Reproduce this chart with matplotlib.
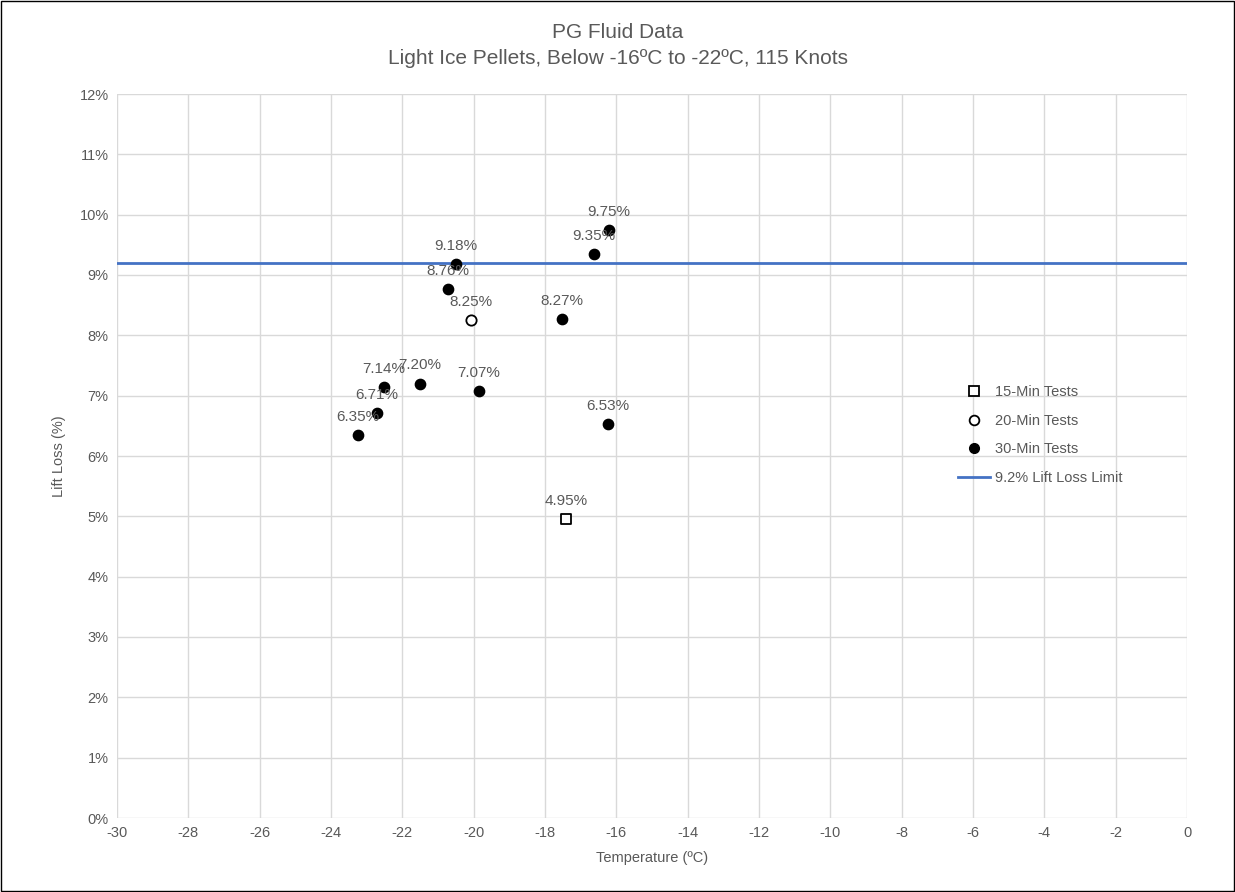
import matplotlib
matplotlib.use("Agg")
from matplotlib import pyplot as plt
from matplotlib.ticker import FuncFormatter, MultipleLocator
from matplotlib.lines import Line2D
from matplotlib.patches import Rectangle

plt.rcParams['font.family'] = ['Liberation Sans', 'DejaVu Sans']
plt.rcParams['axes.unicode_minus'] = False

# 15-min tests
temp15 = [-17.41]
loss15 = [4.95]
# 20-min tests
temp20 = [-20.08]
loss20 = [8.25]
# 30-min tests
temp30 = [-23.24, -22.71, -22.51, -21.5, -19.85, -20.72, -20.5, -17.52, -16.63, -16.21, -16.23]
loss30 = [6.35, 6.71, 7.14, 7.20, 7.07, 8.76, 9.18, 8.27, 9.35, 9.75, 6.53]
limit = 9.2

txt = '#595959'
grid = '#d9d9d9'

fig = plt.figure(figsize=(12.35, 8.92), dpi=100)
ax = fig.add_axes([117/1235, 1-818/892, (1187-117)/1235, (818-94)/892])

ax.axhline(limit, color='#4472c4', lw=2, zorder=2)
ax.scatter(temp15, loss15, marker='s', s=45, facecolor='white', edgecolor='black', lw=1.3, zorder=3)
ax.scatter(temp20, loss20, marker='o', s=55, facecolor='white', edgecolor='black', lw=1.3, zorder=3)
ax.scatter(temp30, loss30, marker='o', s=55, color='black', zorder=3)

for xs, ys in [(temp15, loss15), (temp20, loss20), (temp30, loss30)]:
    for x, y in zip(xs, ys):
        ax.annotate(f'{y:.2f}%', (x, y), xytext=(0, 8), textcoords='offset points',
                    ha='center', va='bottom', fontsize=11, color=txt, zorder=4)

ax.set_xlim(-30, 0)
ax.set_ylim(0, 12)
ax.xaxis.set_major_locator(MultipleLocator(2))
ax.yaxis.set_major_locator(MultipleLocator(1))
ax.yaxis.set_major_formatter(FuncFormatter(lambda v, p: f'{v:.0f}%'))
ax.grid(True, color=grid, lw=1, zorder=0)
ax.set_axisbelow(True)
for s in ax.spines.values():
    s.set_visible(False)
ax.tick_params(length=0, labelsize=10.5, colors=txt, pad=6)

ax.set_xlabel('Temperature (ºC)', fontsize=10.5, color=txt, labelpad=8)
ax.set_ylabel('Lift Loss (%)', fontsize=10.5, color=txt, labelpad=10)

fig.text(0.5, 1-33/892, 'PG Fluid Data', ha='center', va='center', fontsize=15, color=txt)
fig.text(0.5, 1-59/892, 'Light Ice Pellets, Below -16ºC to -22ºC, 115 Knots',
         ha='center', va='center', fontsize=15, color=txt)

handles = [
    Line2D([], [], ls='none', marker='s', markersize=7, markerfacecolor='white', markeredgecolor='black', mew=1.3),
    Line2D([], [], ls='none', marker='o', markersize=7, markerfacecolor='white', markeredgecolor='black', mew=1.3),
    Line2D([], [], ls='none', marker='o', markersize=7, color='black'),
    Line2D([], [], color='#4472c4', lw=2),
]
labels = ['15-Min Tests', '20-Min Tests', '30-Min Tests', '9.2% Lift Loss Limit']
leg = fig.legend(handles, labels, loc='upper left', bbox_to_anchor=(945/1235, 1-372/892),
                 frameon=False, fontsize=10.5, handlelength=2.2, handletextpad=0.3,
                 labelspacing=1.0)
for t in leg.get_texts():
    t.set_color(txt)

fig.patches.append(Rectangle((0.001, 0.001), 0.998, 0.998, transform=fig.transFigure,
                             fill=False, edgecolor='black', lw=1))

fig.savefig('out.png', dpi=100)
